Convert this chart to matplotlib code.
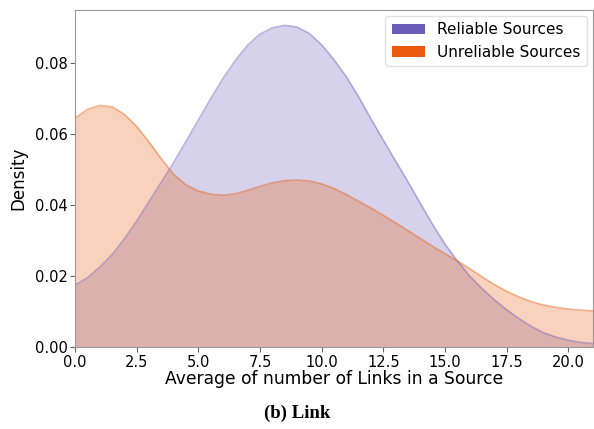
"""
Density of average number of links per source, reliable vs unreliable.
"""

import matplotlib.pyplot as plt
from matplotlib.patches import Patch

links = [0.0, 0.5, 1.0, 1.5, 2.0, 2.5, 3.0, 3.5, 4.0, 4.5, 5.0, 5.5, 6.0,
         6.5, 7.0, 7.5, 8.0, 8.5, 9.0, 9.5, 10.0, 10.5, 11.0, 11.5, 12.0,
         12.5, 13.0, 13.5, 14.0, 14.5, 15.0, 15.5, 16.0, 16.5, 17.0, 17.5,
         18.0, 18.5, 19.0, 19.5, 20.0, 20.5, 21.0]
reliable = [0.0175, 0.0195, 0.0225, 0.026, 0.0305, 0.0355, 0.041, 0.0465,
            0.052, 0.058, 0.064, 0.070, 0.0757, 0.0808, 0.0851, 0.0882,
            0.0900, 0.0907, 0.0902, 0.0884, 0.0852, 0.0810, 0.0762, 0.0705,
            0.0643, 0.0583, 0.0524, 0.0466, 0.0405, 0.0345, 0.0290, 0.0243,
            0.0200, 0.0165, 0.0133, 0.0105, 0.0080, 0.0058, 0.0040, 0.0028,
            0.0019, 0.0013, 0.0010]
unreliable = [0.0645, 0.0670, 0.0681, 0.0677, 0.0656, 0.0622, 0.0578,
              0.0530, 0.0487, 0.0457, 0.0440, 0.0431, 0.0428, 0.0432,
              0.0442, 0.0453, 0.0463, 0.0469, 0.0471, 0.0468, 0.0460,
              0.0447, 0.0430, 0.0411, 0.0392, 0.0371, 0.0350, 0.0328,
              0.0306, 0.0284, 0.0263, 0.0243, 0.0221, 0.0198, 0.0176,
              0.0157, 0.0141, 0.0128, 0.0118, 0.0112, 0.0107, 0.0104, 0.0102]

labels = ["Reliable Sources", "Unreliable Sources"]
colors = ["#6a5cb8", "#ea5a0c"]
x_ticks = [0.0, 2.5, 5.0, 7.5, 10.0, 12.5, 15.0, 17.5, 20.0]
y_ticks = [0.00, 0.02, 0.04, 0.06, 0.08]


def main():
    fig = plt.figure(figsize=(5.94, 4.29), dpi=100)
    ax = fig.add_axes([0.1263, 0.1911, 0.872, 0.7855])

    for series, color in zip([reliable, unreliable], colors):
        ax.fill_between(links, series, color=color, alpha=0.27, linewidth=0)
        ax.plot(links, series, color=color, alpha=0.45, linewidth=1.2)

    ax.set_xlim(0, 21)
    ax.set_ylim(0, 0.095)
    ax.set_xticks(x_ticks)
    ax.set_xticklabels([f"{t:.1f}" for t in x_ticks])
    ax.set_yticks(y_ticks)
    ax.set_yticklabels([f"{t:.2f}" for t in y_ticks])
    ax.tick_params(labelsize=10.5, color="#666666", length=3.5, pad=2)
    for spine in ax.spines.values():
        spine.set_color("#999999")

    ax.set_xlabel("Average of number of Links in a Source", fontsize=12.3,
                  labelpad=0)
    ax.set_ylabel("Density", fontsize=12, labelpad=5)

    handles = [Patch(facecolor=c, edgecolor="none") for c in colors]
    ax.legend(handles, labels, loc="upper right", fontsize=11,
              frameon=True, edgecolor="#dddddd", borderaxespad=0.4,
              handlelength=2.2)

    fig.text(0.5, 0.037, "(b) Link", ha="center", va="center",
             fontsize=13.5, fontweight="bold", family="Liberation Serif")

    fig.savefig("out.png", dpi=100)


if __name__ == "__main__":
    main()
